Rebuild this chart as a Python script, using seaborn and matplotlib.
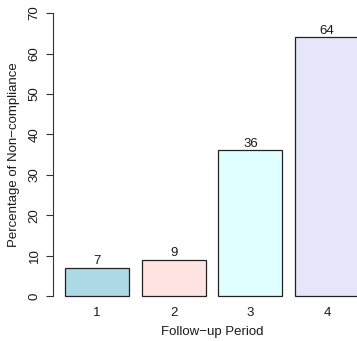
import matplotlib
matplotlib.use('Agg')
import matplotlib.pyplot as plt
import seaborn as sns
import pandas as pd

# Follow-up periods and percentage of non-compliance
periods = ['1', '2', '3', '4']
noncompliance = [7, 9, 36, 64]
bar_colors = ['#ADD8E6', '#FFE4E1', '#E0FFFF', '#E6E6FA']

df = pd.DataFrame({'period': periods, 'pct': noncompliance})

sns.set_style('white')
plt.rcParams['font.family'] = ['Liberation Sans', 'DejaVu Sans']
plt.rcParams['text.color'] = '#1a1a1a'
plt.rcParams['axes.labelcolor'] = '#1a1a1a'
plt.rcParams['xtick.labelcolor'] = '#1a1a1a'
plt.rcParams['ytick.labelcolor'] = '#1a1a1a'

fig = plt.figure(figsize=(3.57, 3.41), dpi=100)
ax = fig.add_axes([0.149, 0.0988, 0.890, 0.896])

sns.barplot(data=df, x='period', y='pct', hue='period', palette=bar_colors,
            saturation=1, width=1 / 1.2, edgecolor='#222222', linewidth=0.9,
            legend=False, ax=ax)

# value labels on top of bars
for c, v in zip(ax.containers, noncompliance):
    ax.bar_label(c, labels=[str(v)], padding=0.5, fontsize=9.5, color='#1a1a1a')

ax.set_xlim(-0.57, 3.57)
ax.set_ylim(-2.8, 72.8)
ax.set_yticks(range(0, 71, 10))

for side in ['top', 'right', 'bottom']:
    ax.spines[side].set_visible(False)
ax.spines['left'].set_bounds(0, 70)
ax.spines['left'].set_color('#333333')
ax.spines['left'].set_linewidth(0.8)

ax.tick_params(axis='y', direction='out', length=5, width=0.8, color='#333333',
               labelsize=9.5, pad=4, left=True, labelrotation=90)
for lab in ax.get_yticklabels():
    lab.set_va('center')
ax.tick_params(axis='x', length=0, labelsize=9.5, pad=0)

ax.set_xlabel('Follow\u2212up Period', fontsize=9.5, labelpad=5)
ax.set_ylabel('Percentage of Non\u2212compliance', fontsize=9.5, labelpad=6)

fig.savefig('out.png', dpi=100)
